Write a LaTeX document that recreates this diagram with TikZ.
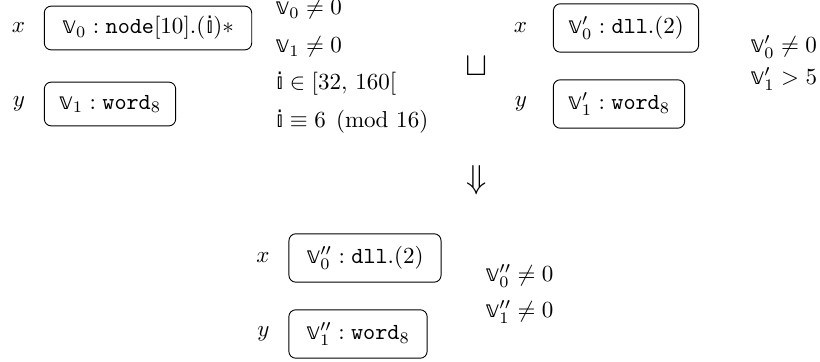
\documentclass[tikz,border=0pt]{standalone}
\usepackage{amsmath}
\usepackage{fontspec}
\newfontfamily\bbfont{DejaVu Sans}
\newcommand{\bbv}{\text{\bbfont 𝕧}}
\newcommand{\bbi}{\text{\bbfont 𝕚}}
\usepackage{tikz}
\usetikzlibrary{positioning}
\tikzset{
  cell/.style={rectangle, rounded corners=3pt, draw, thin, align=center,
               inner xsep=2pt, minimum height=19pt},
  var/.style={inner sep=0pt},
  cstr/.style={anchor=base west, inner sep=0pt},
  op/.style={font=\Large, inner sep=0pt},
}

\begin{document}
\begin{tikzpicture}[x=0.4339pt, y=-0.4339pt]
  \useasboundingbox (0,0) rectangle (820,362);
  % first heap
  \node[cell, minimum width=90pt] (ca) at (148,28) {$\bbv_0 \mathrel{:} \texttt{node}[10].(\bbi)*$};
  \node[cell, minimum width=57pt] (cb) at (110,104) {$\bbv_1 \mathrel{:} \texttt{word}_8$};
  \node[var, left=8pt of ca] (xa) {$x$};
  \node[var, left=8pt of cb] (ya) {$y$};
  \node[cstr] (pa1) at (275,15) {$\bbv_0 \neq 0$};
  \node[cstr] (pa2) at (275,53) {$\bbv_1 \neq 0$};
  \node[cstr] (pa3) at (275,90) {$\bbi \in [32,\, 160[$};
  \node[cstr] (pa4) at (275,128) {$\bbi \equiv 6 \pmod{16}$};
  % second heap
  \node[op] (join) at (477,66) {$\sqcup$};
  \node[cell, minimum width=63pt, minimum height=21pt] (cc) at (626,28) {$\bbv'_0 \mathrel{:} \texttt{dll}.(2)$};
  \node[cell, minimum width=57pt, minimum height=21pt] (cd) at (619,104) {$\bbv'_1 \mathrel{:} \texttt{word}_8$};
  \node[var, left=11pt of cc] (xb) {$x$};
  \node[var, left=11pt of cd] (yb) {$y$};
  \node[cstr] (pb1) at (750,53) {$\bbv'_0 \neq 0$};
  \node[cstr] (pb2) at (750,85) {$\bbv'_1 > 5$};
  % result
  \node[op] (res) at (477,180) {$\Downarrow$};
  \node[cell, minimum width=66pt, minimum height=21pt] (ce) at (365,258) {$\bbv''_0 \mathrel{:} \texttt{dll}.(2)$};
  \node[cell, minimum width=60pt, minimum height=21pt] (cf) at (358,334) {$\bbv''_1 \mathrel{:} \texttt{word}_8$};
  \node[var, left=8pt of ce] (xc) {$x$};
  \node[var, left=8pt of cf] (yc) {$y$};
  \node[cstr] (pc1) at (485,282) {$\bbv''_0 \neq 0$};
  \node[cstr] (pc2) at (485,318) {$\bbv''_1 \neq 0$};
\end{tikzpicture}
\end{document}
